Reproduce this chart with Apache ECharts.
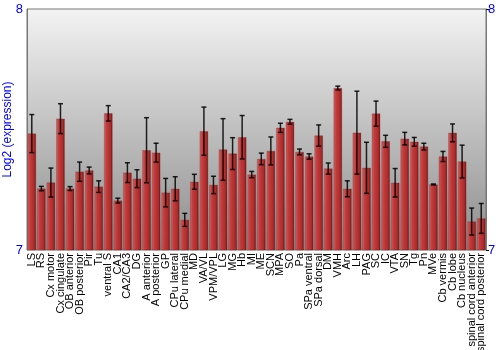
<!DOCTYPE html>
<html>
<head>
<meta charset="utf-8">
<script src="https://cdn.jsdelivr.net/npm/echarts@6/dist/echarts.min.js"></script>
<style>
  html, body { margin: 0; padding: 0; background: #fff; }
  #chart { width: 500px; height: 350px; }
</style>
</head>
<body>
<div id="chart"></div>
<script>
// brain regions
const regions = [
  'LS', 'RS', 'Cx motor', 'Cx cingulate', 'OB anterior', 'OB posterior', 'Pir', 'Tu',
  'ventral S', 'CA1', 'CA2/CA3', 'DG', 'A anterior', 'A posterior', 'GP', 'CPu lateral',
  'CPu medial', 'MD', 'VA/VL', 'VPM/VPL', 'LG', 'MG', 'Hb', 'MI', 'ME', 'SCN', 'MPA',
  'SO', 'Pa', 'SPa ventral', 'SPa dorsal', 'DM', 'VMH', 'Arc', 'LH', 'PAG', 'SC', 'IC',
  'VTA', 'SN', 'Tg', 'Pn', 'MVe', 'Cb vermis', 'Cb lobe', 'Cb nucleus',
  'spinal cord anterior', 'spinal cord posterior'
];
// mean log2 expression
const expression = [
  7.483, 7.255, 7.280, 7.545, 7.255, 7.325, 7.330, 7.263,
  7.567, 7.205, 7.321, 7.296, 7.414, 7.404, 7.238, 7.254,
  7.125, 7.283, 7.493, 7.270, 7.417, 7.400, 7.468, 7.313, 7.378, 7.411, 7.507,
  7.532, 7.407, 7.388, 7.475, 7.338, 7.672, 7.254, 7.487, 7.341, 7.566, 7.451,
  7.279, 7.462, 7.449, 7.429, 7.272, 7.388, 7.486, 7.367,
  7.118, 7.131
];
// error (+/-)
const errors = [
  0.079, 0.009, 0.060, 0.062, 0.008, 0.040, 0.014, 0.024,
  0.032, 0.010, 0.041, 0.037, 0.135, 0.039, 0.059, 0.050,
  0.027, 0.031, 0.100, 0.036, 0.128, 0.066, 0.090, 0.013, 0.024, 0.058, 0.019,
  0.010, 0.012, 0.011, 0.044, 0.023, 0.008, 0.033, 0.172, 0.106, 0.052, 0.025,
  0.059, 0.026, 0.018, 0.014, 0.002, 0.021, 0.037, 0.068,
  0.056, 0.062
];
const yTicks = [7, 8];

const chart = echarts.init(document.getElementById('chart'));

const errData = regions.map((r, i) => [i, expression[i] - errors[i], expression[i] + errors[i]]);

const option = {
  animation: false,
  textStyle: { fontFamily: 'Liberation Sans, Arial, sans-serif' },
  grid: {
    left: 27, right: 14, top: 9, bottom: 100,
    containLabel: false,
    outerBoundsMode: 'none',
    show: true,
    borderColor: '#777',
    borderWidth: 1,
    backgroundColor: new echarts.graphic.LinearGradient(0, 0, 0, 1, [
      { offset: 0, color: '#f3f3f3' },
      { offset: 1, color: '#8c8c8c' },
    ]),
  },
  xAxis: {
    type: 'category',
    data: regions,
    axisTick: { show: false },
    axisLine: { show: false },
    axisLabel: {
      rotate: 90,
      interval: 0,
      color: '#000',
      fontSize: 11,
      margin: 3,
    },
  },
  yAxis: [{
    type: 'value',
    min: yTicks[0],
    max: yTicks[1],
    interval: 1,
    name: 'Log2 (expression)',
    nameLocation: 'middle',
    nameGap: 13,
    nameMoveOverlap: false,
    nameTextStyle: { color: '#0000ff', fontSize: 12 },
    axisLine: { show: true, lineStyle: { color: '#777' } },
    axisTick: { show: false },
    splitLine: { show: false },
    axisLabel: { color: '#0000ff', fontSize: 13, margin: 4 },
  }, {
    type: 'value',
    position: 'right',
    min: yTicks[0],
    max: yTicks[1],
    interval: 1,
    axisLine: { show: true, lineStyle: { color: '#777' } },
    axisTick: { show: true, length: 3, lineStyle: { color: '#000' } },
    splitLine: { show: false },
    axisLabel: { color: '#0000ff', fontSize: 13, margin: 2 },
  }],
  series: [{
    type: 'bar',
    data: expression,
    barCategoryGap: '12%',
    itemStyle: {
      borderColor: 'rgba(90,20,20,0.5)',
      borderWidth: 0.5,
      color: new echarts.graphic.LinearGradient(0, 0, 1, 0, [
        { offset: 0, color: '#d66262' },
        { offset: 0.3, color: '#c23c3c' },
        { offset: 0.75, color: '#ae2c2c' },
        { offset: 1, color: '#7c1616' },
      ]),
    },
  }, {
    type: 'custom',
    data: errData,
    z: 10,
    renderItem(params, api) {
      const x = api.value(0);
      const lo = api.coord([x, api.value(1)]);
      const hi = api.coord([x, api.value(2)]);
      const hw = 2.5;
      const style = { stroke: 'rgba(0,0,0,0.85)', lineWidth: 1.5 };
      return {
        type: 'group',
        children: [
          { type: 'line', shape: { x1: lo[0], y1: lo[1], x2: hi[0], y2: hi[1] }, style },
          { type: 'line', shape: { x1: lo[0] - hw, y1: lo[1], x2: lo[0] + hw, y2: lo[1] }, style },
          { type: 'line', shape: { x1: hi[0] - hw, y1: hi[1], x2: hi[0] + hw, y2: hi[1] }, style },
        ],
      };
    },
  }],
};

chart.setOption(option);
</script>
</body>
</html>
